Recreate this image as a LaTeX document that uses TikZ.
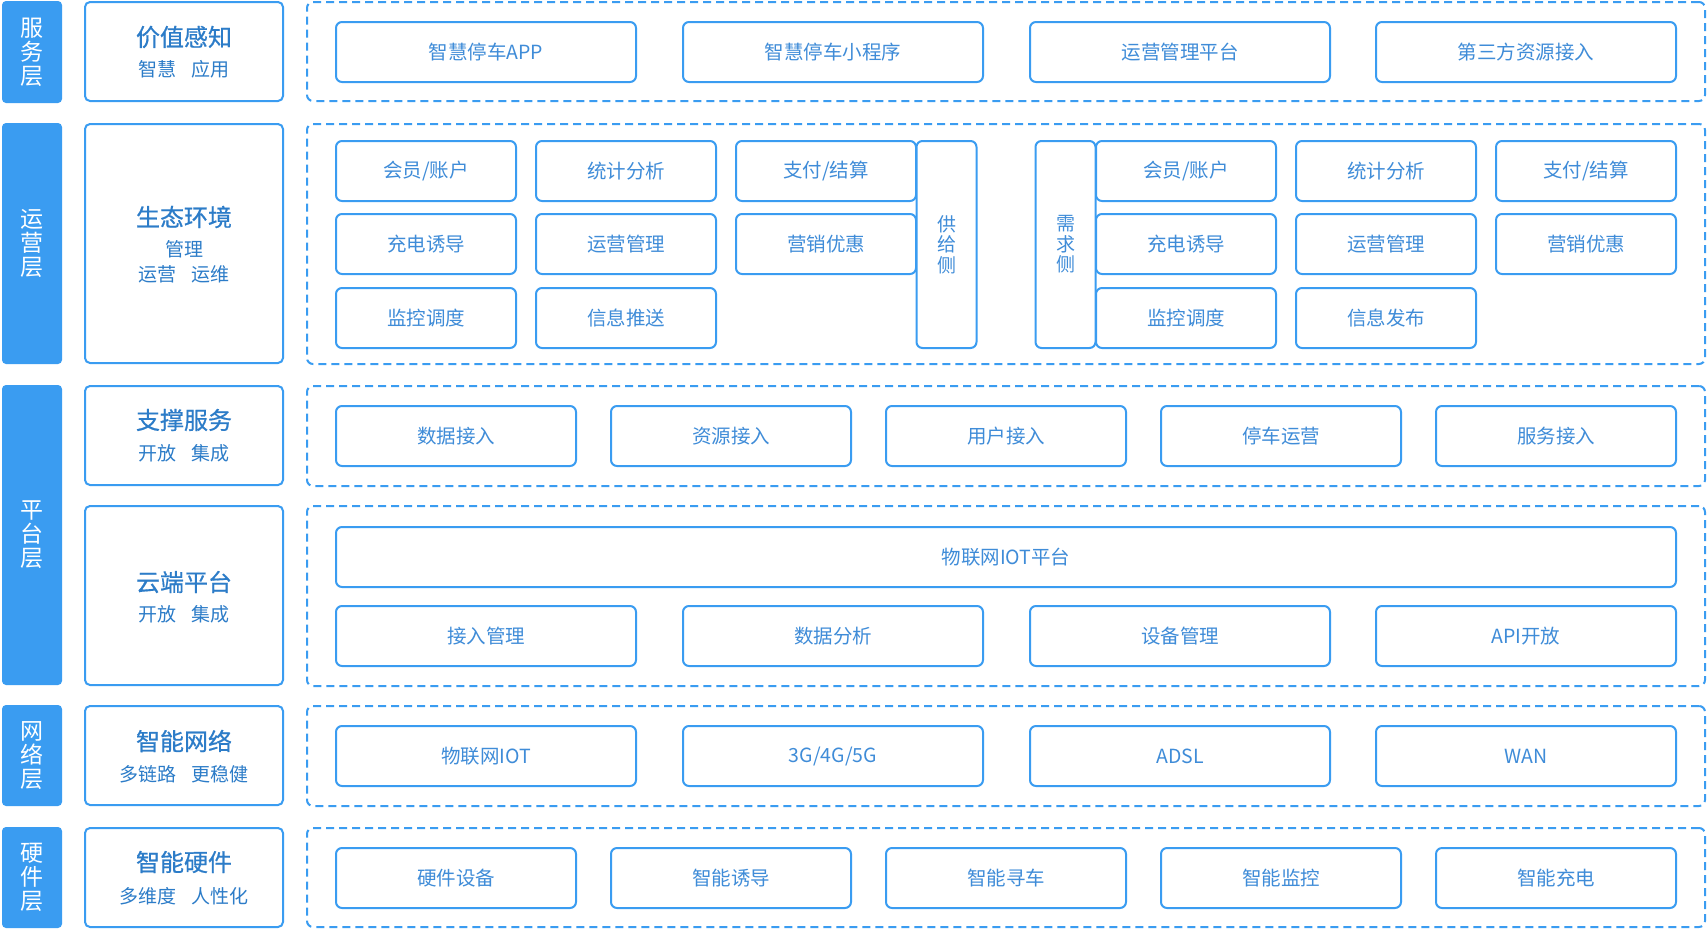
\documentclass[tikz,border=0pt]{standalone}
\usepackage{fontspec}
\setmainfont{Noto Sans CJK SC}
\newfontfamily\headfont[FakeBold=0.6]{Noto Sans CJK SC}
\definecolor{barblue}{HTML}{3A9CF1}
\definecolor{lineblue}{HTML}{3A9CF1}
\definecolor{headblue}{HTML}{2C7CC8}
\definecolor{txtblue}{HTML}{3F8CD8}
\tikzset{
  barbox/.style={fill=barblue, draw=none, rounded corners=4pt, inner sep=0pt, text=white, align=center, font=\fontsize{23}{24}\selectfont},
  lblbox/.style={draw=lineblue, line width=2pt, rounded corners=5pt, fill=white, inner sep=0pt},
  grpbox/.style={draw=lineblue, line width=2pt, dash pattern=on 8pt off 5pt, rounded corners=6pt, inner sep=0pt},
  itemb/.style={draw=lineblue, line width=2pt, rounded corners=6pt, fill=white, inner sep=0pt, text=txtblue, font=\fontsize{19.5}{22}\selectfont},
  vitem/.style={itemb, align=center, font=\fontsize{19}{20.5}\selectfont},
  headtxt/.style={text=headblue, font=\headfont\fontsize{24}{26}\selectfont, inner sep=0pt},
  subtxt/.style={text=headblue, font=\fontsize{19}{21}\selectfont, inner sep=0pt},
}
\newcommand\ib[6]{\node[itemb, minimum width={#3-#1-2}, minimum height={#4-#2-2}] (#5) at ({(#1+#3)/2},{(#2+#4)/2}) {#6};}
\newcommand\gb[5]{\node[grpbox, minimum width={#3-#1-2}, minimum height={#4-#2-2}] (#5) at ({(#1+#3)/2},{(#2+#4)/2}) {};}
\newcommand\lb[5]{\node[lblbox, minimum width={#3-#1-2}, minimum height={#4-#2-2}] (#5) at ({(#1+#3)/2},{(#2+#4)/2}) {};}
\newcommand\bb[6]{\node[barbox, minimum width={#3-#1}, minimum height={#4-#2}] (#5) at ({(#1+#3)/2},{(#2+#4)/2}) {#6};}
\begin{document}
\begin{tikzpicture}[x=1pt,y=-1pt]
\fill[white] (0,0) rectangle (1708,930);
\useasboundingbox (0,0) rectangle (1708,930);
% left bars
\bb{2}{1}{62}{103}{barS}{服\\务\\层}
\bb{2}{123}{62}{364}{barO}{运\\营\\层}
\bb{2}{385}{62}{685}{barP}{平\\台\\层}
\bb{2}{705}{62}{806}{barN}{网\\络\\层}
\bb{2}{827}{62}{928}{barH}{硬\\件\\层}
% label boxes
\lb{84}{1}{284}{102}{lS}
\lb{84}{123}{284}{364}{lO}
\lb{84}{385}{284}{486}{lSup}
\lb{84}{505}{284}{686}{lC}
\lb{84}{705}{284}{806}{lN}
\lb{84}{827}{284}{928}{lH}
\node[headtxt] (hS) at (184,37) {价值感知};
\node[subtxt] (sS) at (184,69) {智慧\hspace{0.8em}应用};
\node[headtxt] (hO) at (184,217) {生态环境};
\node[subtxt] (sO1) at (184,249) {管理};
\node[subtxt] (sO2) at (184,274) {运营\hspace{0.8em}运维};
\node[headtxt] (hSup) at (184,420) {支撑服务};
\node[subtxt] (sSup) at (184,453) {开放\hspace{0.8em}集成};
\node[headtxt] (hC) at (184,582) {云端平台};
\node[subtxt] (sC) at (184,614) {开放\hspace{0.8em}集成};
\node[headtxt] (hN) at (184,741) {智能网络};
\node[subtxt] (sN) at (184,774) {多链路\hspace{0.8em}更稳健};
\node[headtxt] (hH) at (184,862) {智能硬件};
\node[subtxt] (sH) at (184,896) {多维度\hspace{0.8em}人性化};
% dashed groups
\gb{306}{1}{1706}{102}{gS}
\gb{306}{123}{1706}{365}{gO}
\gb{306}{385}{1706}{487}{gSup}
\gb{306}{505}{1706}{687}{gC}
\gb{306}{705}{1706}{807}{gN}
\gb{306}{827}{1706}{928}{gH}
% service items
\ib{335}{21}{637}{83}{s1}{智慧停车APP}
\ib{682}{21}{984}{83}{s2}{智慧停车小程序}
\ib{1029}{21}{1331}{83}{s3}{运营管理平台}
\ib{1375}{21}{1677}{83}{s4}{第三方资源接入}
% operation items left
\ib{335}{140}{517}{202}{o11}{会员/账户}
\ib{535}{140}{717}{202}{o12}{统计分析}
\ib{735}{140}{917}{202}{o13}{支付/结算}
\ib{335}{213}{517}{275}{o21}{充电诱导}
\ib{535}{213}{717}{275}{o22}{运营管理}
\ib{735}{213}{917}{275}{o23}{营销优惠}
\ib{335}{287}{517}{349}{o31}{监控调度}
\ib{535}{287}{717}{349}{o32}{信息推送}
\node[vitem, minimum width=60, minimum height=207] (supply) at (946.5,244.5) {供\\给\\侧};
\node[vitem, minimum width=60, minimum height=207] (demand) at (1065.5,244.5) {需\\求\\侧};
% operation items right
\ib{1095}{140}{1277}{202}{d11}{会员/账户}
\ib{1295}{140}{1477}{202}{d12}{统计分析}
\ib{1495}{140}{1677}{202}{d13}{支付/结算}
\ib{1095}{213}{1277}{275}{d21}{充电诱导}
\ib{1295}{213}{1477}{275}{d22}{运营管理}
\ib{1495}{213}{1677}{275}{d23}{营销优惠}
\ib{1095}{287}{1277}{349}{d31}{监控调度}
\ib{1295}{287}{1477}{349}{d32}{信息发布}
% support
\ib{335}{405}{577}{467}{p1}{数据接入}
\ib{610}{405}{852}{467}{p2}{资源接入}
\ib{885}{405}{1127}{467}{p3}{用户接入}
\ib{1160}{405}{1402}{467}{p4}{停车运营}
\ib{1435}{405}{1677}{467}{p5}{服务接入}
% cloud
\ib{335}{526}{1677}{588}{c0}{物联网IOT平台}
\ib{335}{605}{637}{667}{c1}{接入管理}
\ib{682}{605}{984}{667}{c2}{数据分析}
\ib{1029}{605}{1331}{667}{c3}{设备管理}
\ib{1375}{605}{1677}{667}{c4}{API开放}
% network
\ib{335}{725}{637}{787}{n1}{物联网IOT}
\ib{682}{725}{984}{787}{n2}{3G/4G/5G}
\ib{1029}{725}{1331}{787}{n3}{ADSL}
\ib{1375}{725}{1677}{787}{n4}{WAN}
% hardware
\ib{335}{847}{577}{909}{h1}{硬件设备}
\ib{610}{847}{852}{909}{h2}{智能诱导}
\ib{885}{847}{1127}{909}{h3}{智能寻车}
\ib{1160}{847}{1402}{909}{h4}{智能监控}
\ib{1435}{847}{1677}{909}{h5}{智能充电}
\end{tikzpicture}
\end{document}
